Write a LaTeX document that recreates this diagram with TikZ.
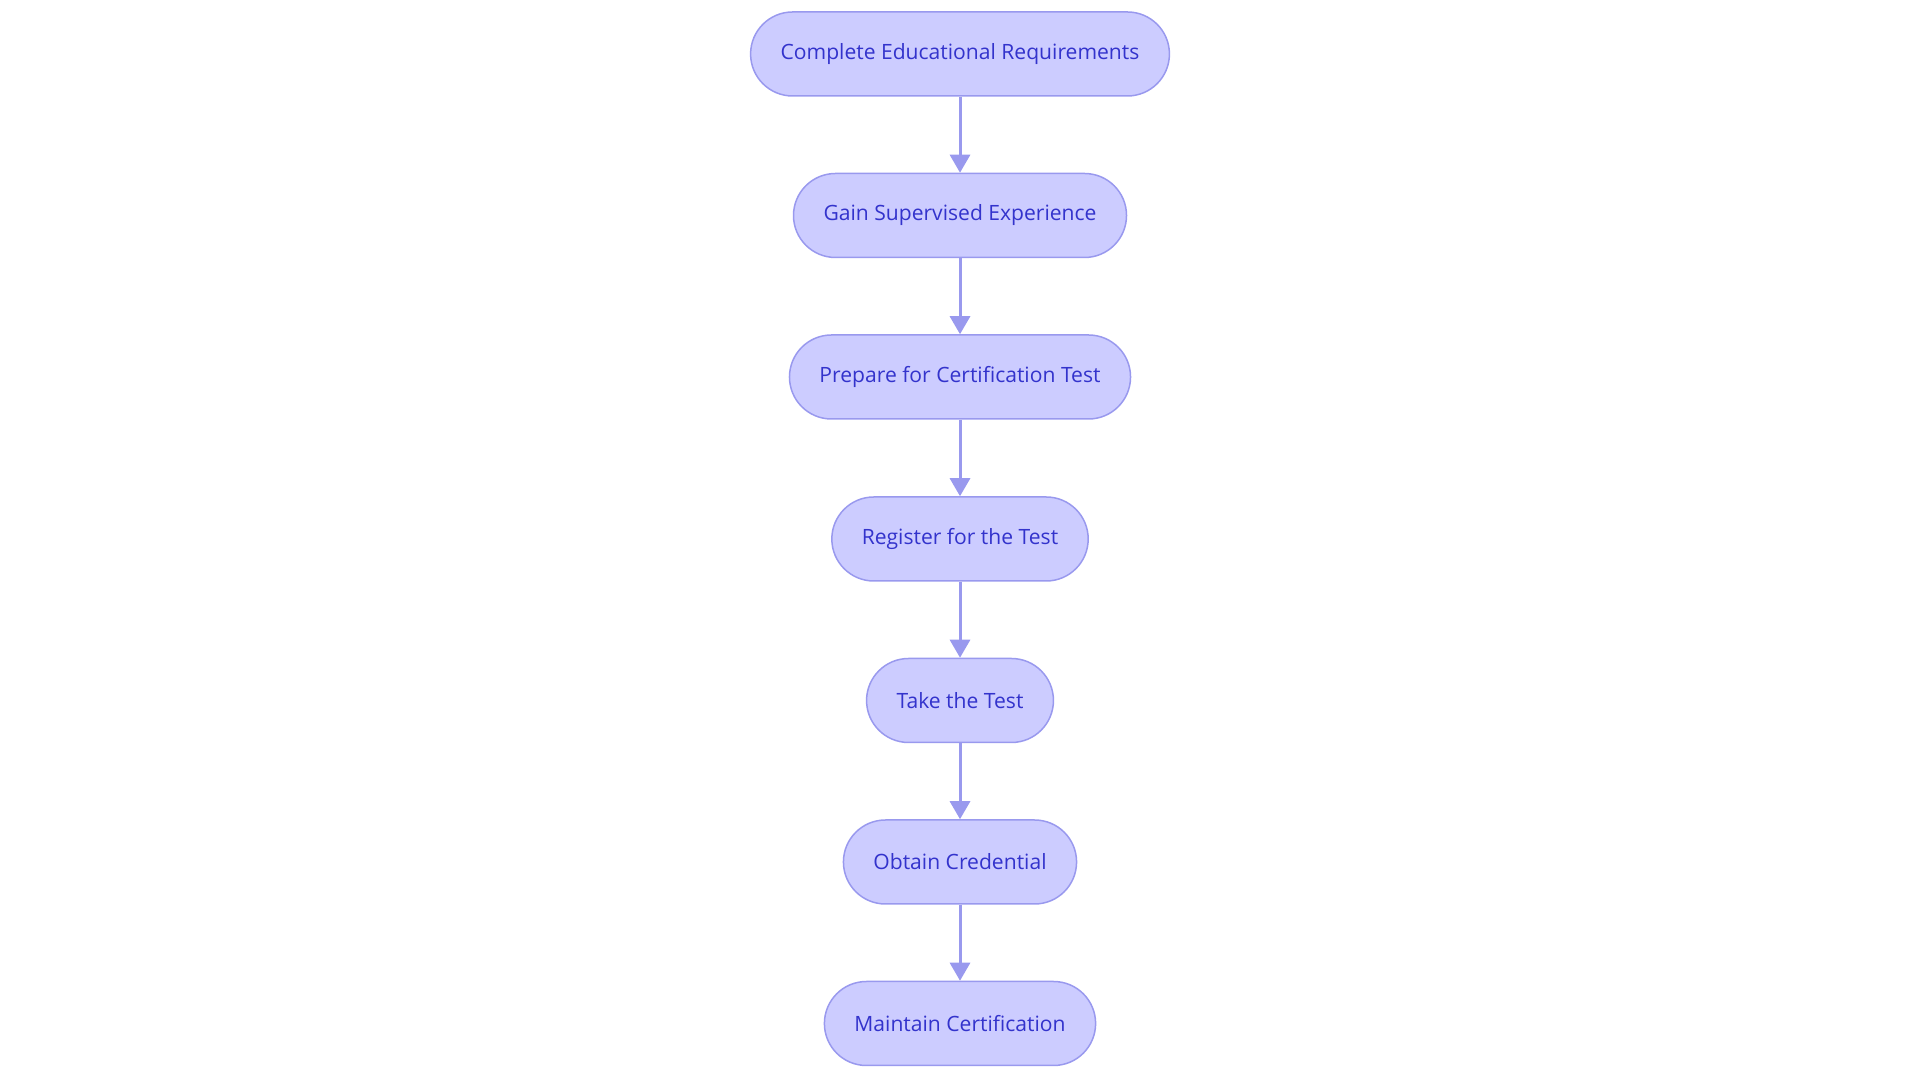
\documentclass[tikz,border=0pt]{standalone}
\usepackage{fontspec}
\setmainfont{Open Sans}
\usetikzlibrary{arrows.meta}
\definecolor{stepfill}{HTML}{CCCCFF}
\definecolor{stepline}{HTML}{9999EE}
\definecolor{steptext}{HTML}{3333CC}
\tikzset{
	stepbox/.style={draw=stepline, line width=0.3mm, fill=stepfill, text=steptext,
		rounded corners=0.84cm, minimum height=1.68cm, inner xsep=0.6cm,
		font=\fontsize{12}{14.5}\selectfont},
	steparrow/.style={draw=stepline, line width=0.06cm, -{Triangle[width=0.4cm, length=0.36cm]}}
}
\begin{document}
\begin{tikzpicture}
		%%%%% START %%%%%
		
		\useasboundingbox (0, 0) rectangle (38.4, 21.66);
		
		\node[stepbox] (educ) at (19.2, 20.58) {Complete Educational Requirements};
		\node[stepbox] (exper) at (19.2, 17.35) {Gain Supervised Experience};
		\node[stepbox] (prep) at (19.2, 14.12) {Prepare for Certification Test};
		\node[stepbox] (regist) at (19.2, 10.88) {Register for the Test};
		\node[stepbox] (take) at (19.2, 7.65) {Take the Test};
		\node[stepbox] (cred) at (19.2, 4.42) {Obtain Credential};
		\node[stepbox] (maint) at (19.2, 1.19) {Maintain Certification};
		
		\draw[steparrow] (educ) -- (exper);
		\draw[steparrow] (exper) -- (prep);
		\draw[steparrow] (prep) -- (regist);
		\draw[steparrow] (regist) -- (take);
		\draw[steparrow] (take) -- (cred);
		\draw[steparrow] (cred) -- (maint);
		
		%%%%% END %%%%%
	\end{tikzpicture}
\end{document}
